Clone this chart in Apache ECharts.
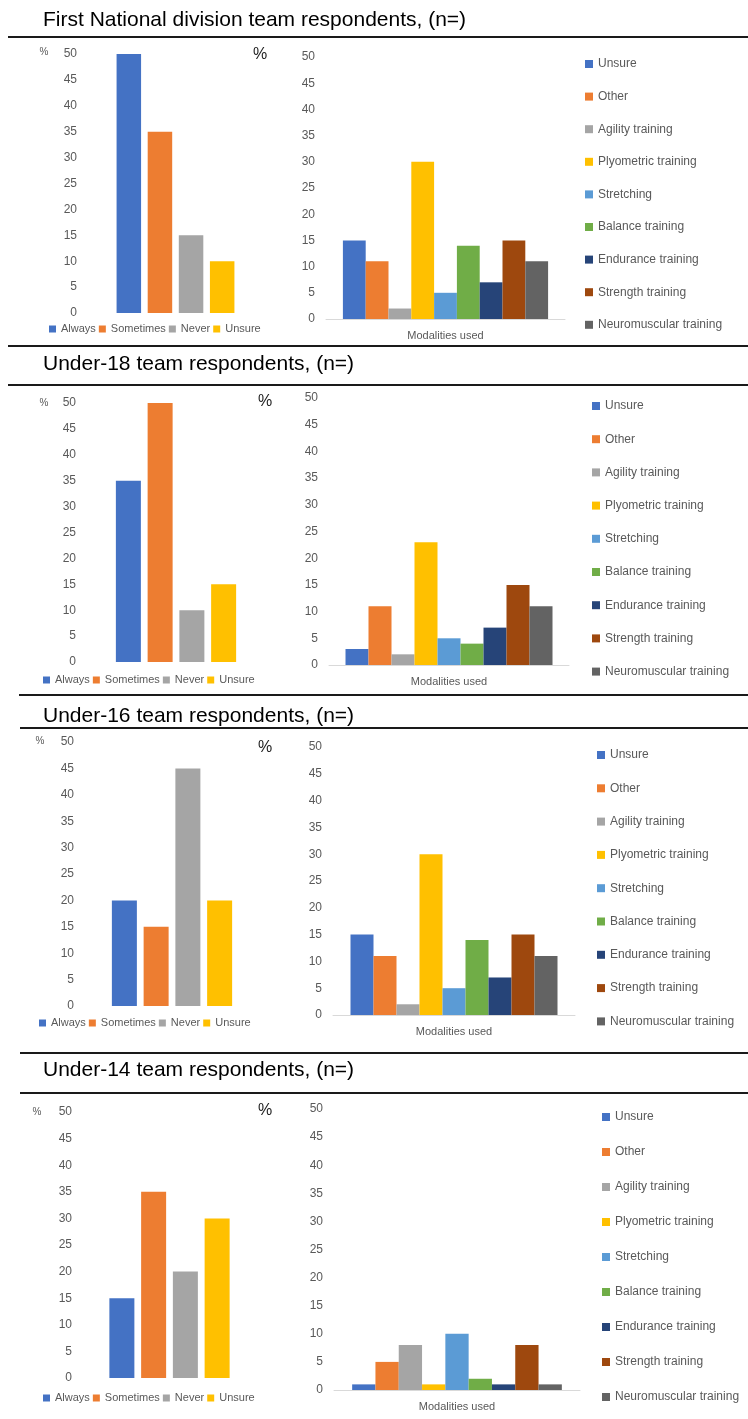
<!DOCTYPE html>
<html>
<head>
<meta charset="utf-8">
<script src="https://cdn.jsdelivr.net/npm/echarts@6/dist/echarts.min.js"></script>
<style>
html,body{margin:0;padding:0;background:#fff;}
#wrap{position:relative;width:748px;height:1419px;}
.layer{position:absolute;left:0;top:0;width:748px;height:1419px;}
</style>
</head>
<body>
<div id="wrap"></div>
<script>
// ---------- DATA ----------
const panelTitles = [
  'First National division team respondents, (n=)',
  'Under-18 team respondents, (n=)',
  'Under-16 team respondents, (n=)',
  'Under-14 team respondents, (n=)'
];
const freqNames = ['Always', 'Sometimes', 'Never', 'Unsure'];
const freqFirstNational = [50, 35, 15, 10];
const freqU18 = [35, 50, 10, 15];
const freqU16 = [20, 15, 45, 20];
const freqU14 = [15, 35, 20, 30];

const modalityNames = ['Unsure', 'Other', 'Agility training', 'Plyometric training', 'Stretching',
  'Balance training', 'Endurance training', 'Strength training', 'Neuromuscular training'];
const modFirstNational = [15, 11, 2, 30, 5, 14, 7, 15, 11];
const modU18 = [3, 11, 2, 23, 5, 4, 7, 15, 11];
const modU16 = [15, 11, 2, 30, 5, 14, 7, 15, 11];
const modU14 = [1, 5, 8, 1, 10, 2, 1, 8, 1];

const axisMin = 0, axisMax = 50, axisStep = 5;
const modalityAxisName = 'Modalities used';
const percentLabel = '%';

// ---------- STYLE / LAYOUT ----------
const freqColors = ['#4472C4', '#ED7D31', '#A5A5A5', '#FFC000'];
const modColors = ['#4472C4', '#ED7D31', '#A5A5A5', '#FFC000', '#5B9BD5', '#70AD47', '#264478', '#9E480E', '#636363'];
const FONT = '"Liberation Sans", Arial, sans-serif';
const LABEL_COLOR = '#595959';

const freqSets = [freqFirstNational, freqU18, freqU16, freqU14];
const modSets = [modFirstNational, modU18, modU16, modU14];

const leftLayouts = [
  {gl: 85, gw: 181, y50: 54, y0: 313, bw: 24.5, legL: 49, legT: 322, px: 44, py: 52},
  {gl: 84, gw: 184, y50: 403, y0: 662, bw: 25, legL: 43, legT: 673, px: 44, py: 403},
  {gl: 82, gw: 180, y50: 742, y0: 1006, bw: 25, legL: 39, legT: 1016, px: 40, py: 741},
  {gl: 80, gw: 179, y50: 1112, y0: 1378, bw: 25, legL: 43, legT: 1391, px: 37, py: 1112}
];
const rightLayouts = [
  {gl: 326, gw: 239, y50: 57, y0: 319, bw: 22.8, legL: 585, legT: 57, legGap: 18.6, px: 260, py: 55},
  {gl: 329, gw: 240, y50: 398, y0: 665, bw: 23, legL: 592, legT: 399, legGap: 19.2, px: 265, py: 402},
  {gl: 333, gw: 242, y50: 747, y0: 1015, bw: 23, legL: 597, legT: 748, legGap: 19.3, px: 265, py: 748},
  {gl: 334, gw: 246, y50: 1109, y0: 1390, bw: 23.3, legL: 602, legT: 1110, legGap: 21, px: 265, py: 1111}
];
const titleLayouts = [{x: 43, y: 20.5}, {x: 43, y: 364.5}, {x: 43, y: 716.5}, {x: 43, y: 1070.5}];
const rules = [
  {y: 37, x1: 8}, {y: 346, x1: 8}, {y: 385, x1: 8}, {y: 695, x1: 19},
  {y: 728, x1: 20}, {y: 1053, x1: 20}, {y: 1093, x1: 20}
];

const wrap = document.getElementById('wrap');
function makeLayer() {
  const d = document.createElement('div');
  d.className = 'layer';
  wrap.appendChild(d);
  return echarts.init(d, null, {renderer: 'canvas'});
}

// background: titles + rules
const bg = makeLayer();
const bgGraphic = [];
rules.forEach(r => bgGraphic.push({
  type: 'line', shape: {x1: r.x1, y1: r.y, x2: 748, y2: r.y},
  style: {stroke: '#1a1a1a', lineWidth: 2}
}));
panelTitles.forEach((t, i) => bgGraphic.push({
  type: 'text', x: titleLayouts[i].x, y: titleLayouts[i].y,
  style: {text: t, fill: '#000', font: '21px ' + FONT, align: 'left', verticalAlign: 'middle'}
}));
bg.setOption({animation: false, graphic: bgGraphic});

function valueAxis(margin) {
  return {
    type: 'value', min: axisMin, max: axisMax, interval: axisStep,
    axisLine: {show: false}, axisTick: {show: false}, splitLine: {show: false},
    axisLabel: {fontSize: 12, color: LABEL_COLOR, fontFamily: FONT, margin: margin}
  };
}

// left frequency charts
freqSets.forEach((vals, p) => {
  const L = leftLayouts[p];
  const c = makeLayer();
  c.setOption({
    animation: false,
    grid: {left: L.gl, top: L.y50, width: L.gw, height: L.y0 - L.y50},
    xAxis: {type: 'category', data: [''], axisLine: {show: false}, axisTick: {show: false}, axisLabel: {show: false}},
    yAxis: valueAxis(8),
    legend: {
      left: L.legL, top: L.legT, padding: 0, itemWidth: 7, itemHeight: 7, itemGap: 3, icon: 'rect',
      textStyle: {fontSize: 11, color: LABEL_COLOR, fontFamily: FONT, lineHeight: 14},
      data: freqNames
    },
    series: freqNames.map((n, i) => ({
      type: 'bar', name: n, data: [vals[i]], barWidth: L.bw, barGap: '27%',
      itemStyle: {color: freqColors[i]}
    })),
    graphic: [{
      type: 'text', x: L.px, y: L.py,
      style: {text: percentLabel, fill: LABEL_COLOR, font: '10px ' + FONT, align: 'center', verticalAlign: 'middle'}
    }]
  });
});

// right modality charts
modSets.forEach((vals, p) => {
  const L = rightLayouts[p];
  const c = makeLayer();
  c.setOption({
    animation: false,
    grid: {left: L.gl, top: L.y50, width: L.gw, height: L.y0 - L.y50},
    xAxis: {
      type: 'category', data: [''],
      axisLine: {show: true, lineStyle: {color: '#d9d9d9', width: 1}},
      axisTick: {show: false}, axisLabel: {show: false},
      name: modalityAxisName, nameLocation: 'middle', nameGap: 11,
      nameTextStyle: {fontSize: 11, color: LABEL_COLOR, fontFamily: FONT}
    },
    yAxis: valueAxis(11),
    legend: {
      orient: 'vertical', left: L.legL, top: L.legT, padding: 0, itemWidth: 8, itemHeight: 8, itemGap: L.legGap,
      icon: 'rect',
      textStyle: {fontSize: 12, color: LABEL_COLOR, fontFamily: FONT, lineHeight: 14},
      data: modalityNames
    },
    series: modalityNames.map((n, i) => ({
      type: 'bar', name: n, data: [vals[i]], barWidth: L.bw, barGap: '0%',
      itemStyle: {color: modColors[i]}
    })),
    graphic: [{
      type: 'text', x: L.px, y: L.py,
      style: {text: percentLabel, fill: '#222', font: '16px ' + FONT, align: 'center', verticalAlign: 'middle'}
    }]
  });
});
</script>
</body>
</html>
